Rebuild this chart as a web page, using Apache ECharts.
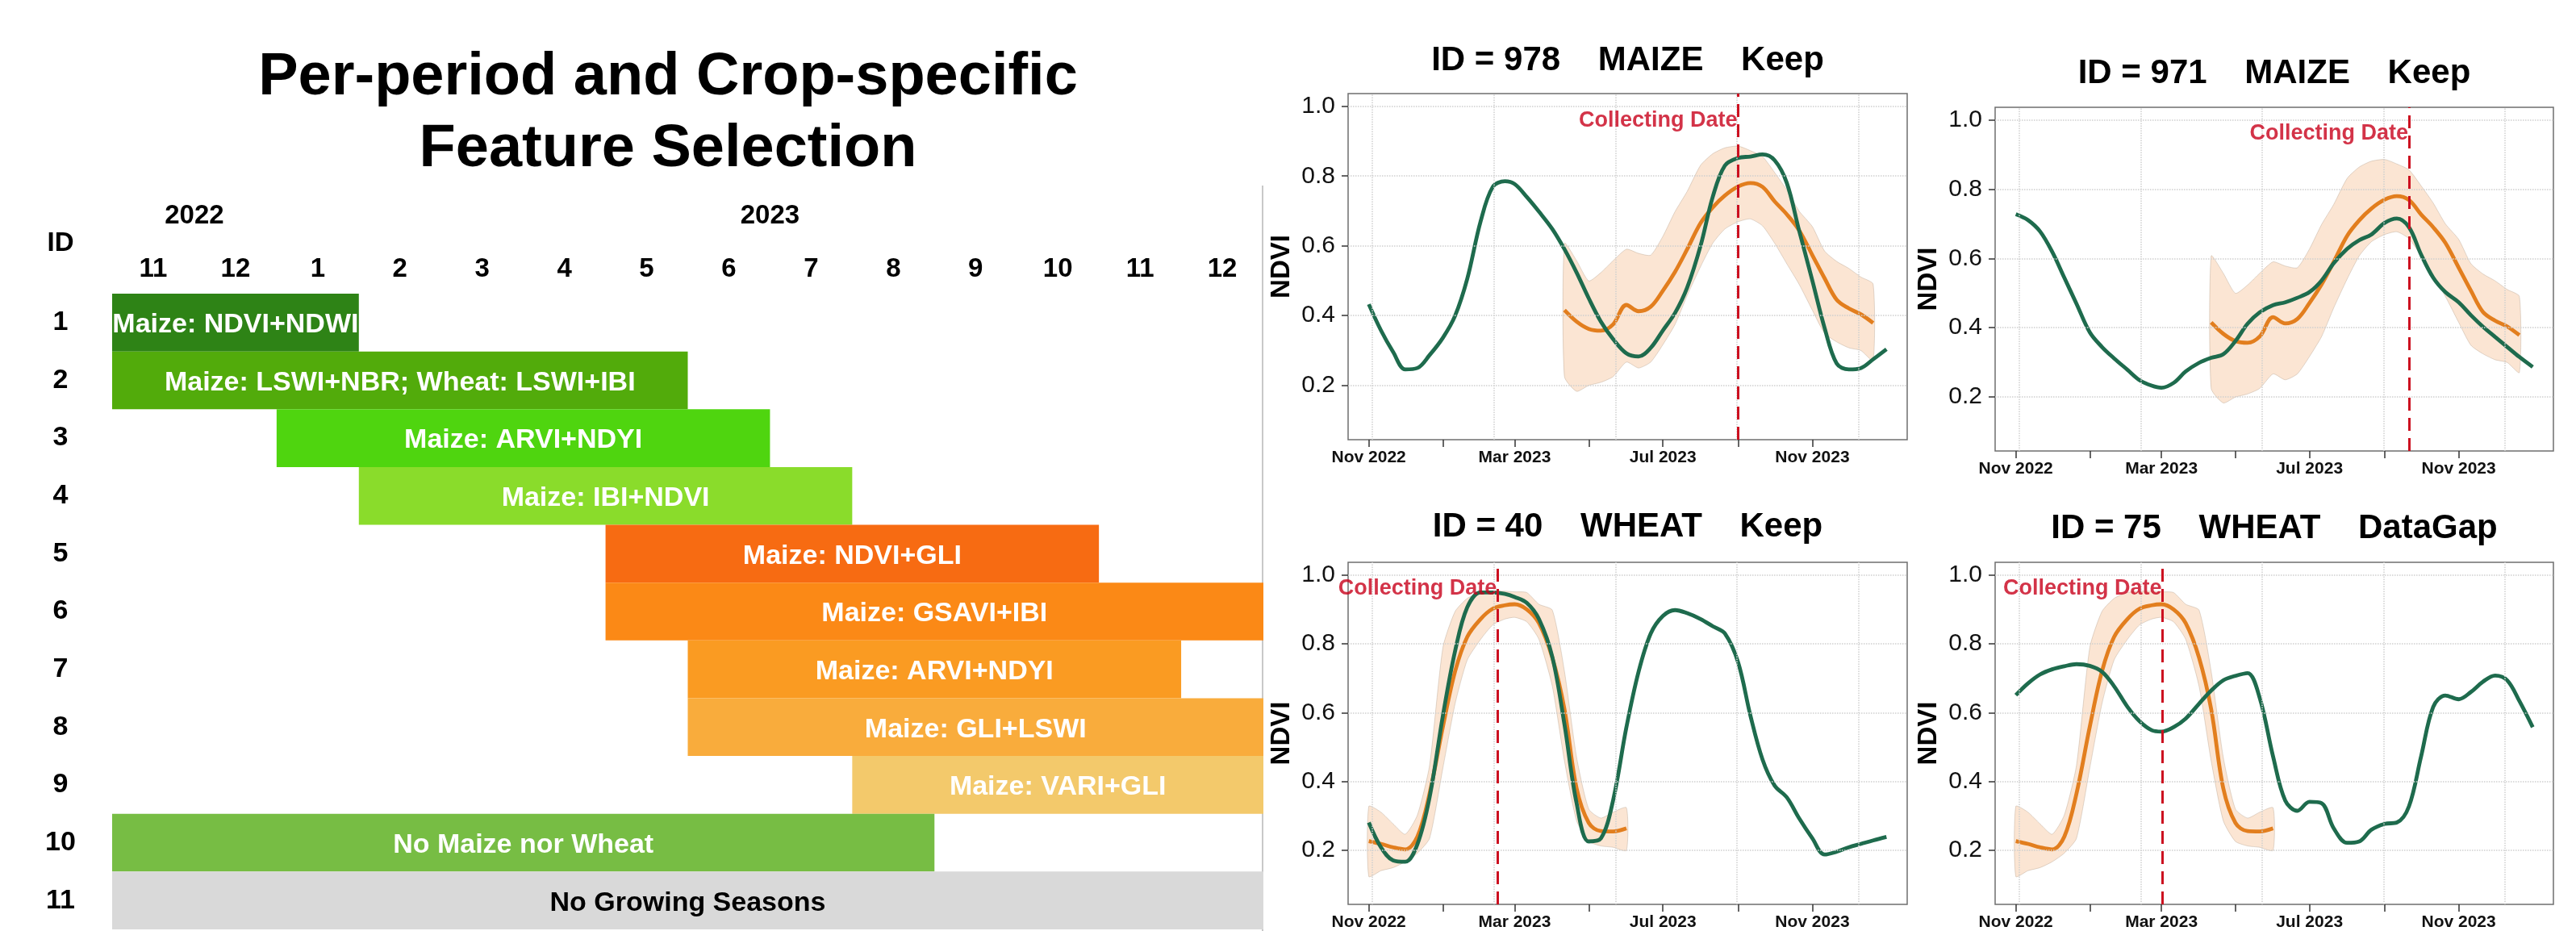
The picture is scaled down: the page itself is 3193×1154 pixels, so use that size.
<!DOCTYPE html>
<html><head><meta charset="utf-8">
<script src="https://cdn.jsdelivr.net/npm/echarts@6/dist/echarts.min.js"></script>
<style>html,body{margin:0;padding:0;background:#fff}#c{width:3193px;height:1154px}</style>
</head><body><div id="c"></div>
<script>
const FONT = '"Liberation Sans", Arial, Helvetica, sans-serif';

// ---------- Gantt (left) ----------
const ganttIds = ['1','2','3','4','5','6','7','8','9','10','11'];
const monthNums = [11,12,1,2,3,4,5,6,7,8,9,10,11,12];
const monthYears = [2022,2022,2023,2023,2023,2023,2023,2023,2023,2023,2023,2023,2023,2023];
const ganttLabels = ['Maize: NDVI+NDWI','Maize: LSWI+NBR; Wheat: LSWI+IBI','Maize: ARVI+NDYI','Maize: IBI+NDVI','Maize: NDVI+GLI','Maize: GSAVI+IBI','Maize: ARVI+NDYI','Maize: GLI+LSWI','Maize: VARI+GLI','No Maize nor Wheat','No Growing Seasons'];
const ganttStart = [0,0,2,3,6,6,7,7,9,0,0];
const ganttEnd   = [3,7,8,9,12,14,13,14,14,10,14];
const ganttColors = ['#2E8316','#52AB0B','#4FD50F','#8ADC2B','#F76B12','#FB8916','#FA9B22','#F9AC3C','#F3C96B','#77BD44','#D9D9D9'];
const ganttTextColors = ['#fff','#fff','#fff','#fff','#fff','#fff','#fff','#fff','#fff','#fff','#000'];

// ---------- NDVI panels (right) ----------
const dates = ['2022-11-01','2022-11-11','2022-11-21','2022-12-01','2022-12-11','2022-12-21',
 '2023-01-01','2023-01-11','2023-01-21','2023-02-01','2023-02-11','2023-02-21',
 '2023-03-01','2023-03-11','2023-03-21','2023-04-01','2023-04-11','2023-04-21',
 '2023-05-01','2023-05-11','2023-05-21','2023-06-01','2023-06-11','2023-06-21',
 '2023-07-01','2023-07-11','2023-07-21','2023-08-01','2023-08-11','2023-08-21',
 '2023-09-01','2023-09-11','2023-09-21','2023-10-01','2023-10-11','2023-10-21',
 '2023-11-01','2023-11-11','2023-11-21','2023-12-01','2023-12-11','2023-12-21','2024-01-01'];

const panelIds = [978, 971, 40, 75];
const panelCrops = ['MAIZE','MAIZE','WHEAT','WHEAT'];
const panelStatus = ['Keep','Keep','Keep','DataGap'];
const collectDates = ['2023-09-01','2023-09-21','2023-02-15','2023-03-02'];

const green978 = [.432,.357,.295, .245,.249,.286, .336,.399,.505, .67,.769,.785, .777,.74,.698, .648,.59,.523, .449,.382,.332, .291,.282,.307, .357,.407,.48, .6,.74,.83, .852,.856,.862, .845,.78,.645, .5,.365,.262, .245,.249,.274, .303];
const green971 = [.728,.711,.678, .619,.544,.469, .386,.344,.311, .278,.248,.232, .226,.24,.273, .298,.3125,.323, .361,.411,.444, .465,.473,.486, .5025,.536,.586, .6275,.6525,.669, .7025,.715,.69, .611,.544,.5025, .473,.436,.4025, .373,.344,.315, .286];
const green40 = [.281,.209,.171, .167,.218,.354, .592,.779,.906, .949,.949,.945, .936,.919,.872, .762,.566,.337, .226,.235,.345, .558,.719,.83, .881,.898,.889, .872,.851,.83, .745,.592,.464, .388,.354,.294, .235,.188,.196, .209,.219,.229, .239];
const green75 = [.651,.685,.711, .726,.735,.741, .736,.719,.677, .617,.575,.549, .545,.558,.583, .626,.664,.694, .707,.715,.643, .473,.345,.315, .341,.337,.264, .222,.226,.26, .277,.281,.328, .473,.617,.65, .639,.66,.69, .708,.694,.634, .558];

const maizeMean  = [null,null,null, null,null,null, null,null,null, null,null,null, null,null,null, null,.415,.382, .361,.356,.374, .43,.412,.425, .471,.525,.59, .665,.71,.744, .77,.78,.769, .727,.69,.645, .573,.507,.445, .42,.403,.378, null];
const maizeUpper = [null,null,null, null,null,null, null,null,null, null,null,null, null,null,null, null,.607,.557, .499,.523,.557, .59,.578,.573, .627,.698,.756, .831,.864,.881, .886,.873,.856, .81,.76,.7, .655,.585,.555, .535,.51,.49, null];
const maizeLower = [null,null,null, null,null,null, null,null,null, null,null,null, null,null,null, null,.224,.182, .199,.208,.224, .266,.249,.266, .316,.374,.457, .54,.607,.648, .669,.677,.657, .607,.548,.49, .415,.349,.324, .307,.299,.27, null];

const wheatMean  = [.227,.219,.209, .203,.24,.365, .56,.72,.82, .872,.902,.912, .915,.9,.86, .76,.61,.38, .28,.256,.255, .264,null,null, null,null,null, null,null,null, null,null,null, null,null,null, null,null,null, null,null,null, null];
const wheatUpper = [.328,.311,.277, .247,.303,.447, .79,.894,.932, .949,.953,.953, .951,.949,.915, .898,.72,.47, .32,.294,.311, .324,null,null, null,null,null, null,null,null, null,null,null, null,null,null, null,null,null, null,null,null, null];
const wheatLower = [.124,.141,.15, .167,.192,.235, .44,.626,.753, .813,.855,.872, .877,.864,.813, .677,.46,.286, .226,.213,.209, .2,null,null, null,null,null, null,null,null, null,null,null, null,null,null, null,null,null, null,null,null, null];

const xTickDates = ['2022-11-01','2023-01-01','2023-03-01','2023-05-01','2023-07-01','2023-09-01','2023-11-01'];
const xLabelDates = ['2022-11-01','2023-03-01','2023-07-01','2023-11-01'];
const gridXDays = [19300,19400,19500,19600,19700];
const yTicks = [0.2,0.4,0.6,0.8,1.0];
const yLim = [0.08, 1.0];
const monthAbbr = ['Jan','Feb','Mar','Apr','May','Jun','Jul','Aug','Sep','Oct','Nov','Dec'];

// ---------- build ----------
const toDay = s => { const p = s.split('-').map(Number); return Date.UTC(p[0], p[1]-1, p[2]) / 864e5; };
const days = dates.map(toDay);
const xPad = (days[days.length-1] - days[0]) * 0.04;
const xMin = days[0] - xPad, xMax = days[days.length-1] + xPad;
const yPad = (yLim[1] - yLim[0]) * 0.04;
const yMin = yLim[0] - yPad, yMax = yLim[1] + yPad;
const xTickDays = xTickDates.map(toDay);
const xLabelDays = xLabelDates.map(toDay);

const years = [...new Set(monthYears)];
const yearCenters = years.map(y => {
  const idx = monthYears.map((v,i)=>v===y?i:-1).filter(i=>i>=0);
  return (idx[0] + idx[idx.length-1] + 1) / 2;
});

const panelGrids = [
  {left:1671, top:116, width:693, height:429},
  {left:2473, top:133, width:692, height:426},
  {left:1671, top:697, width:693, height:427},
  {left:2473, top:697, width:692, height:427}
];
const panelTitleY = [75, 91, 653, 655];
const greens = [green978, green971, green40, green75];
const means = [maizeMean, maizeMean, wheatMean, wheatMean];
const uppers = [maizeUpper, maizeUpper, wheatUpper, wheatUpper];
const lowers = [maizeLower, maizeLower, wheatLower, wheatLower];

const pts = arr => days.map((d,i)=> arr[i]==null ? null : [d, arr[i]]).filter(Boolean);

const grid = [{left:139, top:364, width:1427, height:788}];
const xAxis = [
  {gridIndex:0, type:'value', min:0, max:14, position:'top',
   axisLine:{show:false}, axisTick:{show:false}, splitLine:{show:false},
   axisLabel:{customValues: monthNums.map((m,i)=>i+0.5), formatter: v => String(monthNums[Math.floor(v)]),
     margin:30, verticalAlign:'middle', fontSize:33, fontWeight:'bold', color:'#000', fontFamily:FONT}},
  {gridIndex:0, type:'value', min:0, max:14, position:'top',
   axisLine:{show:false}, axisTick:{show:false}, splitLine:{show:false},
   axisLabel:{customValues: yearCenters, formatter: v => String(years[yearCenters.findIndex(c=>Math.abs(c-v)<1e-6)]),
     margin:96, verticalAlign:'middle', fontSize:33, fontWeight:'bold', color:'#000', fontFamily:FONT}}
];
const yAxis = [
  {gridIndex:0, type:'category', data:ganttIds, inverse:true,
   axisLine:{show:false}, axisTick:{show:false}, splitLine:{show:false},
   axisLabel:{margin:64, align:'center', fontSize:34, fontWeight:'bold', color:'#000', fontFamily:FONT, padding:[6,0,0,0]}}
];
const series = [{
  type:'custom', xAxisIndex:0, yAxisIndex:0, silent:true,
  data: ganttIds.map((id,i)=>[ganttStart[i], ganttEnd[i], i]),
  encode:{x:[0,1], y:2},
  renderItem(params, api){
    const i = params.dataIndex;
    const s = api.coord([api.value(0), i]);
    const e = api.coord([api.value(1), i]);
    const h = api.size([0,1])[1];
    return {type:'rect', shape:{x:s[0], y:s[1]-h/2, width:e[0]-s[0], height:h},
      style:{fill:ganttColors[i]},
      textContent:{type:'text', style:{text:ganttLabels[i], fill:ganttTextColors[i], font:'bold 34px '+FONT}},
      textConfig:{position:'inside', offset:[0,3]}};
  }
}];

const graphic = [
  {type:'text', x:828, y:97, style:{text:'Per-period and Crop-specific', font:'bold 74px '+FONT, fill:'#000', textAlign:'center', textVerticalAlign:'middle'}},
  {type:'text', x:828, y:186, style:{text:'Feature Selection', font:'bold 74px '+FONT, fill:'#000', textAlign:'center', textVerticalAlign:'middle'}},
  {type:'text', x:75, y:302, style:{text:'ID', font:'bold 33px '+FONT, fill:'#000', textAlign:'center', textVerticalAlign:'middle'}},
  {type:'line', shape:{x1:1565, y1:230, x2:1565, y2:1154}, style:{stroke:'#c8c8c8', lineWidth:2}}
];

panelGrids.forEach((g, p) => {
  grid.push(Object.assign({show:true, borderColor:'#6f6f6f', borderWidth:1.5, backgroundColor:'transparent'}, g));
  const xi = p + 2, yi = p + 1;
  xAxis.push({gridIndex:p+1, type:'value', min:xMin, max:xMax,
    axisLine:{show:false}, splitLine:{show:false},
    axisTick:{show:true, customValues:xTickDays, length:9, lineStyle:{color:'#333', width:1.5}},
    axisLabel:{customValues:xLabelDays, margin:12, fontSize:21, fontWeight:'bold', color:'#111', fontFamily:FONT,
      formatter: v => { const d = new Date(Math.round(v)*864e5); return monthAbbr[d.getUTCMonth()] + ' ' + d.getUTCFullYear(); }}});
  yAxis.push({gridIndex:p+1, type:'value', min:yMin, max:yMax,
    axisLine:{show:false}, splitLine:{show:false},
    axisTick:{show:true, customValues:yTicks, length:8, lineStyle:{color:'#333', width:1.5}},
    axisLabel:{customValues:yTicks, formatter: v => v.toFixed(1), margin:16, fontSize:30, color:'#111', fontFamily:FONT, padding:[6,0,0,0]},
    name:'NDVI', nameLocation:'middle', nameGap:66, nameRotate:90,
    nameTextStyle:{fontSize:33, fontWeight:'bold', color:'#000', fontFamily:FONT}});

  const cd = toDay(collectDates[p]);
  // grid lines
  series.push({type:'scatter', xAxisIndex:xi, yAxisIndex:yi, symbolSize:0, silent:true, z:1,
    data: pts(greens[p]),
    markLine:{symbol:['none','none'], silent:true, label:{show:false}, animation:false,
      lineStyle:{color:'#cfcfcf', type:'dotted', width:1.5},
      data: gridXDays.map(d=>({xAxis:d})).concat(yTicks.map(v=>({yAxis:v})))}});
  // band
  const bandPts = days.map((d,i)=> uppers[p][i]==null ? null : [d, lowers[p][i], uppers[p][i]]).filter(Boolean);
  series.push({type:'custom', xAxisIndex:xi, yAxisIndex:yi, z:2, silent:true, clip:true,
    data: bandPts, encode:{x:0, y:[1,2]},
    renderItem(params, api){
      if (params.dataIndex !== 0) return null;
      const top = bandPts.map(q=>api.coord([q[0], q[2]]));
      const bot = bandPts.map(q=>api.coord([q[0], q[1]])).reverse();
      return {type:'polygon', shape:{points: top.concat(bot), smooth:0.2},
        style:{fill:'#FBE5D3', stroke:'rgba(170,150,130,0.35)', lineWidth:1}};
    }});
  // orange mean
  series.push({type:'line', xAxisIndex:xi, yAxisIndex:yi, z:3, silent:true, showSymbol:false, symbol:'none',
    smooth:0.35, data: pts(means[p]), lineStyle:{color:'#E27E1E', width:4.8}});
  // green
  series.push({type:'line', xAxisIndex:xi, yAxisIndex:yi, z:4, silent:true, showSymbol:false, symbol:'none',
    smooth:0.35, data: pts(greens[p]), lineStyle:{color:'#1E6B4D', width:4.8}});
  // collecting date
  series.push({type:'scatter', xAxisIndex:xi, yAxisIndex:yi, z:5, silent:true, symbolSize:0,
    data:[[cd, 0.96]],
    label:{show:true, position:'left', distance:1, formatter:'Collecting Date', color:'#C8001A', fontSize:27, fontWeight:'bold', fontFamily:FONT, padding:[5,0,0,0]},
    markLine:{symbol:['none','none'], silent:true, label:{show:false}, animation:false,
      lineStyle:{color:'#CC1020', type:[16,9], width:3}, data:[{xAxis:cd}]}});

  graphic.push({type:'text', x: g.left + g.width/2, y: panelTitleY[p],
    style:{text:'ID = ' + panelIds[p] + '    ' + panelCrops[p] + '    ' + panelStatus[p], font:'bold 42px '+FONT, fill:'#000', textAlign:'center', textVerticalAlign:'middle'}});
});

const chart = echarts.init(document.getElementById('c'), null, {renderer:'canvas'});
chart.setOption({animation:false, backgroundColor:'#fff', grid, xAxis, yAxis, series, graphic});
</script></body></html>
